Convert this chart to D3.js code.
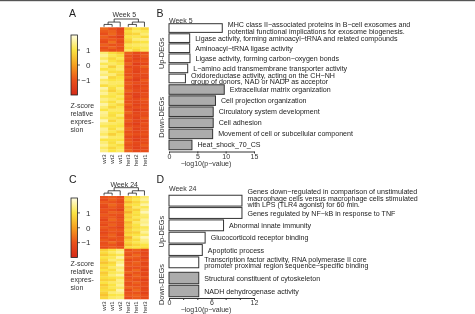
<!DOCTYPE html>
<html>
<head>
<meta charset="utf-8">
<script src="https://cdn.jsdelivr.net/npm/d3@7"></script>
<style>
body { margin: 0; background: #fff; }
svg { display: block; font-family: "Liberation Sans", Arial, sans-serif; will-change: transform; }
</style>
</head>
<body>
<div id="chart"></div>
<script>
// ---- heatmap data (z-scores, rows top to bottom) ----
var samplesA = ["wt3", "wt2", "wt1", "het3", "het2", "het1"];
var samplesC = ["wt3", "wt1", "wt2", "het2", "het1", "het3"];

var heatA = [
    [-0.7, -1.0, -1.4, 0.5, 1.0, 0.8], [-0.9, -0.8, -1.3, 0.9, 1.2, 1.1], [-1.1, -0.7, -1.2, 0.7, 0.8, 1.3],
    [-0.8, -1.1, -1.5, 1.0, 1.1, 0.9], [-1.0, -0.9, -1.1, 0.8, 1.3, 1.4], [-1.2, -0.6, -1.3, 0.6, 0.9, 1.0],
    [-0.8, -1.0, -1.0, 1.1, 1.2, 1.3], [-1.1, -0.8, -1.2, 0.9, 1.0, 1.1], [-0.9, -1.1, -1.0, 1.2, 0.8, 1.2],
    [1.3, 0.9, 0.6, -0.8, -1.2, -1.1], [1.5, 1.1, 0.9, -1.0, -1.3, -0.9], [1.2, 0.8, 1.1, -0.9, -1.4, -1.2],
    [1.6, 1.0, 0.8, -1.1, -1.1, -1.0], [1.1, 1.2, 1.0, -0.8, -1.5, -1.3], [1.4, 0.7, 1.2, -1.2, -1.2, -0.8],
    [1.0, 1.1, 1.3, -0.9, -1.3, -1.1], [1.5, 0.9, 0.9, -1.0, -1.4, -1.0], [1.3, 1.3, 0.8, -1.1, -1.2, -1.2],
    [1.7, 0.8, 1.0, -0.8, -1.3, -1.3], [1.2, 1.0, 1.1, -1.2, -1.5, -0.9], [1.4, 1.2, 1.2, -0.9, -1.1, -1.1],
    [0.9, 1.1, 1.0, -1.0, -1.4, -1.2], [1.6, 0.9, 1.3, -1.1, -1.3, -1.0], [1.3, 0.7, 1.1, -0.8, -1.2, -1.3],
    [1.5, 1.1, 0.9, -1.2, -1.4, -1.1], [1.1, 1.0, 1.2, -0.9, -1.5, -1.2], [1.4, 1.2, 1.0, -1.0, -1.2, -0.9],
    [1.2, 0.9, 1.3, -1.1, -1.3, -1.1], [1.6, 1.1, 0.8, -0.9, -1.4, -1.2], [1.3, 0.8, 1.1, -1.2, -1.1, -1.0],
    [1.0, 1.2, 1.2, -1.0, -1.5, -1.3], [1.5, 1.0, 1.0, -0.8, -1.3, -1.1], [1.4, 0.9, 1.3, -1.1, -1.2, -1.2],
    [1.2, 1.1, 0.9, -1.0, -1.4, -0.9], [1.7, 0.8, 1.2, -0.9, -1.3, -1.3], [1.3, 1.2, 1.1, -1.2, -1.5, -1.0],
    [1.1, 1.0, 1.0, -1.0, -1.2, -1.2], [1.5, 0.9, 1.3, -0.8, -1.4, -1.1], [1.4, 1.1, 0.8, -1.1, -1.3, -1.2],
    [1.2, 0.7, 1.1, -0.9, -1.1, -1.0], [1.6, 1.2, 1.2, -1.2, -1.4, -1.3], [1.0, 1.0, 1.0, -1.0, -1.5, -1.1],
    [1.3, 0.9, 1.3, -0.9, -1.2, -1.2], [1.5, 1.1, 0.9, -1.1, -1.3, -0.9], [1.2, 0.8, 1.1, -1.0, -1.4, -1.2],
    [1.4, 1.0, 1.2, -0.8, -1.2, -1.1]
];

var heatC = [
    [-1.0, -0.9, -1.2, 0.6, 0.9, 1.3], [-1.2, -0.8, -1.1, 0.8, 1.1, 1.5], [-0.9, -1.0, -1.3, 0.4, 0.8, 1.2],
    [-1.1, -0.7, -1.0, 0.9, 1.0, 1.6], [-1.3, -0.9, -1.2, 0.5, 1.2, 1.1], [-1.0, -1.1, -1.4, 0.7, 0.7, 1.4],
    [-1.2, -0.8, -0.9, 0.3, 1.0, 1.7], [-0.9, -1.0, -1.1, 0.8, 0.9, 1.3], [-1.1, -0.9, -1.3, 0.6, 1.1, 1.2],
    [-1.3, -0.7, -1.0, 0.9, 0.8, 1.5], [-1.0, -1.0, -1.2, 0.4, 1.2, 1.4], [-1.2, -0.8, -1.1, 0.7, 1.0, 1.6],
    [-0.9, -1.1, -1.4, 0.5, 0.9, 1.1], [-1.1, -0.9, -1.0, 0.8, 1.1, 1.3], [-1.3, -1.0, -1.2, 0.6, 0.7, 1.5],
    [-1.0, -0.8, -1.3, 0.9, 1.0, 1.2], [-1.2, -0.9, -1.1, 0.3, 1.2, 1.7], [-0.9, -1.1, -1.0, 0.7, 0.9, 1.4],
    [-1.1, -0.7, -1.2, 0.8, 1.1, 1.3], [-1.0, -1.0, -1.3, 0.5, 0.8, 1.0], [-1.2, -0.9, -1.1, 0.9, 1.0, 0.9],
    [0.7, 1.0, 1.3, -1.0, -0.8, -1.2], [0.9, 1.2, 1.5, -0.9, -1.0, -1.3], [0.6, 0.9, 1.1, -1.1, -0.7, -1.1],
    [1.0, 1.1, 1.6, -0.8, -0.9, -1.4], [0.8, 1.3, 1.2, -1.2, -1.0, -1.0], [0.5, 0.8, 1.4, -1.0, -0.8, -1.3],
    [0.9, 1.0, 1.7, -0.9, -0.9, -1.2], [0.7, 1.2, 1.3, -1.1, -1.1, -1.1], [1.0, 0.9, 1.5, -1.0, -0.7, -1.4],
    [0.6, 1.1, 1.2, -0.8, -1.0, -1.2], [0.8, 1.3, 1.6, -1.2, -0.8, -1.3], [0.9, 1.0, 1.1, -1.0, -0.9, -1.0],
    [0.7, 0.8, 1.4, -0.9, -1.1, -1.4], [1.0, 1.2, 1.3, -1.1, -0.8, -1.2], [0.6, 1.0, 1.5, -1.0, -1.0, -1.1],
    [0.8, 1.1, 1.2, -0.8, -0.9, -1.3], [0.9, 0.9, 1.6, -1.2, -0.7, -1.2], [0.7, 1.3, 1.4, -1.0, -1.0, -1.4],
    [0.5, 1.0, 1.1, -0.9, -0.8, -1.1], [0.8, 1.2, 1.3, -1.1, -0.9, -1.2]
];

// dendrogram merges like R hclust: negative = leaf (1-based column), positive = earlier merge
var mergeA = [[-1, -2, 1.0], [-4, -5, 1.0], [1, -3, 2.0], [2, -6, 2.0], [3, 4, 3.3]];
var mergeC = [[-1, -2, 1.0], [-4, -5, 1.0], [1, -3, 2.0], [2, -6, 2.0], [3, 4, 3.3]];

var colorTicks = [1, 0, -1];
var zLegend = ["Z-score", "relative", "expres-", "sion"];

// ---- enrichment bars ----
var termsB = [
    "MHC class II\u2212associated proteins in B\u2212cell exosomes and\npotential functional implications for exosome biogenesis.",
    "Ligase activity, forming aminoacyl\u2212tRNA and related compounds",
    "Aminoacyl\u2212tRNA ligase activity",
    "Ligase activity, forming carbon\u2212oxygen bonds",
    "L\u2212amino acid transmembrane transporter activity",
    "Oxidoreductase activity, acting on the CH\u2212NH\ngroup of donors, NAD or NADP as acceptor",
    "Extracellular matrix organization",
    "Cell projection organization",
    "Circulatory system development",
    "Cell adhesion",
    "Movement of cell or subcellular component",
    "Heat_shock_70_CS"
];
var valuesB = [9.4, 3.65, 3.65, 3.7, 3.3, 2.9, 9.75, 8.2, 7.8, 7.8, 7.7, 4.05];
var groupsB = ["up", "up", "up", "up", "up", "up", "down", "down", "down", "down", "down", "down"];
var ticksB = [0, 5, 10, 15];

var termsD = [
    "Genes down\u2212regulated in comparison of unstimulated\nmacrophage cells versus macrophage cells stimulated\nwith LPS (TLR4 agonist) for 60 min.",
    "Genes regulated by NF\u2212kB in response to TNF",
    "Abnormal innate immunity",
    "Glucocorticoid receptor binding",
    "Apoptotic process",
    "Transcription factor activity, RNA polymerase II core\npromoter proximal region sequence\u2212specific binding",
    "Structural constituent of cytoskeleton",
    "NADH dehydrogenase activity"
];
var valuesD = [10.3, 10.3, 7.7, 5.1, 4.7, 4.2, 4.2, 4.2];
var groupsD = ["up", "up", "up", "up", "up", "up", "down", "down"];
var ticksD = [0, 2, 4, 6, 8, 10, 12];

var groupNames = { up: "Up-DEGs", down: "Down-DEGs" };

var width = 475, height = 314;

var svg = d3.select("#chart").append("svg")
    .attr("width", width)
    .attr("height", height);

svg.append("rect")
    .attr("x", 0).attr("y", 0)
    .attr("width", width).attr("height", 1.2)
    .attr("fill", "#555");

var heatColor = d3.scaleLinear()
    .domain([-2, -1, 0, 1, 2])
    .range(["#d52a18", "#ea521b", "#f5a01f", "#fbe443", "#fffde4"])
    .clamp(true);

var defs = svg.append("defs");
var grad = defs.append("linearGradient")
    .attr("id", "zgrad")
    .attr("x1", 0).attr("y1", 1).attr("x2", 0).attr("y2", 0);
d3.range(0, 1.0001, 0.125).forEach(function (t) {
    grad.append("stop").attr("offset", t).attr("stop-color", heatColor(-2 + 4 * t));
});

function create_heatmap(samples, rows, merges, box) {
    var g = svg.append("g");

    var x = d3.scaleBand().domain(samples).range([box.left, box.right]);
    var y = d3.scaleBand().domain(d3.range(rows.length)).range([box.top, box.bottom]);

    g.append("text")
        .attr("x", 69).attr("y", box.letterY)
        .style("font-size", "10.5px").style("fill", "#222")
        .text(box.letter);

    g.append("text")
        .attr("x", (box.left + box.right) / 2).attr("y", box.weekY)
        .attr("text-anchor", "middle")
        .style("font-size", "7px").style("fill", "#333")
        .text(box.week);

    rows.forEach(function (row, i) {
        g.selectAll(null).data(row).enter().append("rect")
            .attr("x", function (d, j) { return x(samples[j]); })
            .attr("y", y(i))
            .attr("width", x.bandwidth() + 0.3)
            .attr("height", y.bandwidth() + 0.3)
            .attr("fill", function (d) { return heatColor(d); });
    });

    // dendrogram
    var yH = d3.scaleLinear().domain([0, d3.max(merges, function (m) { return m[2]; })])
        .range([box.top - 0.5, box.top - 8.3]);
    var nodes = [];
    function node(k) {
        if (k < 0) return { x: x(samples[-k - 1]) + x.bandwidth() / 2, h: 0 };
        return nodes[k - 1];
    }
    merges.forEach(function (m) {
        var a = node(m[0]), b = node(m[1]);
        nodes.push({ x: (a.x + b.x) / 2, h: m[2] });
        g.append("path")
            .attr("d", "M" + a.x + "," + yH(a.h) + "V" + yH(m[2]) + "H" + b.x + "V" + yH(b.h))
            .attr("fill", "none")
            .attr("stroke", "#222")
            .attr("stroke-width", 0.8);
    });

    // sample labels
    samples.forEach(function (s) {
        g.append("text")
            .attr("transform", "translate(" + (x(s) + x.bandwidth() / 2) + "," + (box.bottom + 2.5) + ") rotate(-90)")
            .attr("text-anchor", "end")
            .attr("dy", "0.35em")
            .style("font-size", "6px").style("fill", "#333")
            .text(s);
    });

    // colour key
    var cy = d3.scaleLinear().domain([-2, 2]).range([box.keyBottom, box.keyTop]);
    g.append("rect")
        .attr("x", 71).attr("y", cy(2))
        .attr("width", 6.5).attr("height", cy(-2) - cy(2))
        .attr("fill", "url(#zgrad)")
        .attr("stroke", "#222").attr("stroke-width", 0.8);
    colorTicks.forEach(function (t) {
        g.append("line")
            .attr("x1", 77.5).attr("x2", 80)
            .attr("y1", cy(t)).attr("y2", cy(t))
            .attr("stroke", "#222").attr("stroke-width", 0.7);
        g.append("text")
            .attr("x", 90.5).attr("y", cy(t))
            .attr("dy", "0.35em")
            .attr("text-anchor", "end")
            .style("font-size", "8px").style("fill", "#333")
            .text(t < 0 ? "\u2212" + Math.abs(t) : t);
    });
    zLegend.forEach(function (line, i) {
        g.append("text")
            .attr("x", 70.5).attr("y", box.legendY + i * 8.3)
            .style("font-size", "7px").style("fill", "#333")
            .text(line);
    });
}

function create_bar_chart(terms, values, groups, opt) {
    var g = svg.append("g");
    var x = d3.scaleLinear().domain([0, opt.xMax]).range([169, 254]);

    var upTerms = terms.filter(function (d, i) { return groups[i] == "up"; });
    var downTerms = terms.filter(function (d, i) { return groups[i] == "down"; });
    var yScales = {
        up: d3.scaleBand().domain(upTerms).range(opt.upRange).paddingInner(opt.pad).paddingOuter(opt.pad / 2),
        down: d3.scaleBand().domain(downTerms).range(opt.downRange).paddingInner(opt.pad).paddingOuter(opt.pad / 2)
    };

    g.append("text")
        .attr("x", 156.5).attr("y", opt.letterY)
        .style("font-size", "10.5px").style("fill", "#222")
        .text(opt.letter);

    g.append("text")
        .attr("x", 169).attr("y", opt.weekY)
        .style("font-size", "7px").style("fill", "#333")
        .text(opt.week);

    var bars = g.selectAll(".bar").data(terms).enter().append("g").attr("class", "bar");
    bars.append("rect")
        .attr("x", x(0))
        .attr("y", function (d, i) { return yScales[groups[i]](d); })
        .attr("width", function (d, i) { return x(values[i]) - x(0); })
        .attr("height", function (d, i) { return yScales[groups[i]].bandwidth(); })
        .attr("fill", function (d, i) { return groups[i] == "up" ? "#ffffff" : "#acacac"; })
        .attr("stroke", "#333")
        .attr("stroke-width", 1);

    bars.each(function (d, i) {
        var lines = d.split("\n");
        // three-line labels sit a little higher so they clear the next bar's label
        var yc = yScales[groups[i]](d) + yScales[groups[i]].bandwidth() / 2 - Math.max(0, lines.length - 2) * 2.4;
        var t = d3.select(this).append("text")
            .style("font-size", "7.1px").style("fill", "#222");
        lines.forEach(function (line, k) {
            t.append("tspan")
                .attr("x", x(values[i]) + 5.5)
                .attr("y", yc + (k - (lines.length - 1) / 2) * 6.6 + 2.5)
                .text(line);
        });
    });

    ["up", "down"].forEach(function (grp) {
        var r = yScales[grp].range();
        g.append("text")
            .attr("transform", "translate(161," + (r[0] + r[1]) / 2 + ") rotate(-90)")
            .attr("text-anchor", "middle")
            .attr("dy", "0.35em")
            .style("font-size", "7.4px").style("fill", "#333")
            .text(groupNames[grp]);
    });

    var axis = d3.axisBottom(x)
        .tickValues(opt.ticks)
        .tickFormat(function (d) { return d % opt.labelEvery == 0 ? d : ""; })
        .tickSize(2)
        .tickSizeOuter(0)
        .tickPadding(0.3);
    var ax = g.append("g")
        .attr("transform", "translate(0," + opt.axisY + ")")
        .call(axis);
    ax.select(".domain").attr("stroke", "#333");
    ax.selectAll(".tick line").attr("stroke", "#333");
    ax.selectAll(".tick text")
        .style("font-size", "7px").style("fill", "#333")
        .style("font-family", "'Liberation Sans', Arial, sans-serif");

    g.append("text")
        .attr("x", 206).attr("y", opt.axisY + 14)
        .attr("text-anchor", "middle")
        .style("font-size", "7px").style("fill", "#333")
        .text("\u2212log10(p\u2212value)");
}

create_heatmap(samplesA, heatA, mergeA, {
    left: 100, right: 148.5, top: 27.3, bottom: 152,
    letter: "A", letterY: 16.5, week: "Week 5", weekY: 16.5,
    keyTop: 35, keyBottom: 95, legendY: 107.5
});
create_heatmap(samplesC, heatC, mergeC, {
    left: 100, right: 148.5, top: 196, bottom: 299,
    letter: "C", letterY: 183, week: "Week 24", weekY: 186.5,
    keyTop: 198, keyBottom: 257.5, legendY: 265.5
});

create_bar_chart(termsB, valuesB, groupsB, {
    letter: "B", letterY: 16.5, week: "Week 5", weekY: 22.5,
    upRange: [23, 83.5], downRange: [84, 150.5], pad: 0.14,
    xMax: 15, ticks: ticksB, labelEvery: 5, axisY: 151.5
});
create_bar_chart(termsD, valuesD, groupsD, {
    letter: "D", letterY: 183, week: "Week 24", weekY: 191,
    upRange: [194.5, 268.5], downRange: [271.5, 297.5], pad: 0.12,
    xMax: 12, ticks: ticksD, labelEvery: 6, axisY: 298
});
</script>
</body>
</html>
